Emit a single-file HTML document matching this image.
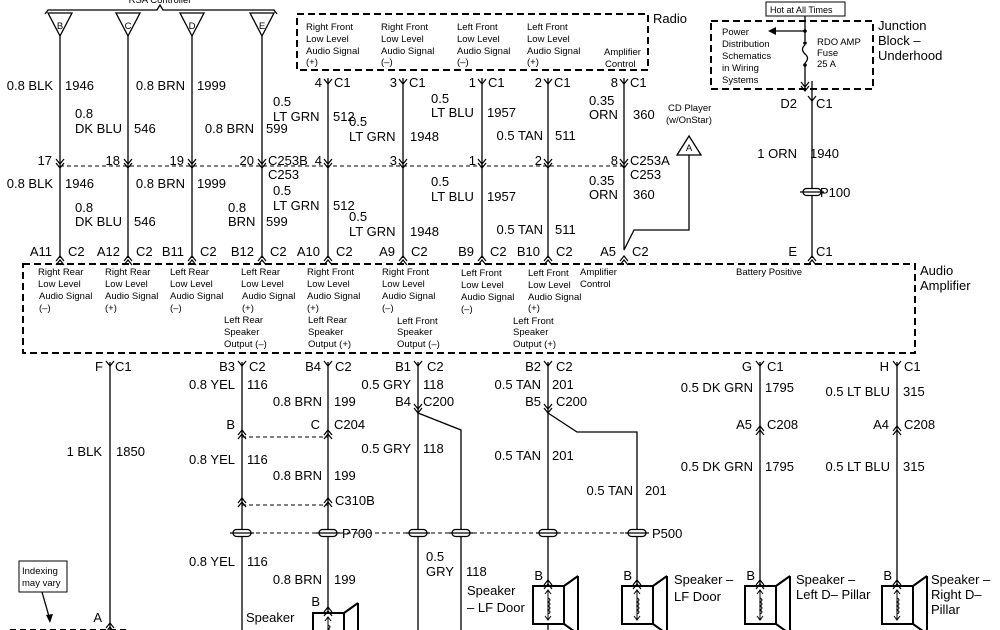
<!DOCTYPE html>
<html><head><meta charset="utf-8">
<style>
html,body{margin:0;padding:0;background:#fff;}
svg{display:block;}
text{font-family:"Liberation Sans",Arial,sans-serif;fill:#000;}
.l{font-size:13px;}
.s{font-size:9.5px;}
.r{text-anchor:end;}
</style></head><body>
<svg width="1000" height="630" viewBox="0 0 1000 630" xmlns="http://www.w3.org/2000/svg">
<defs>
<path id="fk" d="M-4,-5 L0,0 L4,-5" fill="none" stroke="#000" stroke-width="1.2"/>
<path id="ar" d="M-4,-5 L0,0 L4,-5 M-4,-1 L0,4 L4,-1" fill="none" stroke="#000" stroke-width="1.2"/>
<path id="up" d="M-4,5 L0,0 L4,5 M-4,9 L0,4 L4,9" fill="none" stroke="#000" stroke-width="1.2"/>
<g id="sp"><rect x="-9" y="-3.5" width="18" height="7" rx="3.5" fill="#fff" stroke="#000" stroke-width="1.3"/><line x1="-12" y1="0" x2="12" y2="0" stroke="#000" stroke-width="1.3"/></g>
<g id="spk"><rect x="-15" y="0" width="31" height="38" fill="#fff" stroke="#000" stroke-width="2"/><path d="M16,0 L30,-10 M16,38 L30,48 M30,-10 L30,48" fill="none" stroke="#000" stroke-width="2"/><path d="M0,4 L0,34 M-3,8 L0,4 L3,8 M-3,30 L0,34 L3,30 M0,12 q4,2 0,4 q4,2 0,4 q4,2 0,4 q4,2 0,4" fill="none" stroke="#000" stroke-width="1"/></g>
</defs>
<g stroke="#000" stroke-width="1.3" fill="none">
<path d="M45,14 L48,10 L157,10 L160,5 L163,10 L274,10 L277,14"/>
<path d="M48,13 L72,13 L60,36 Z M116,13 L140,13 L128,36 Z M180,13 L204,13 L192,36 Z M250,13 L274,13 L262,36 Z"/>
<path d="M60,36 V258 M128,36 V258 M192,36 V258 M262,36 V258 M328,78 V258 M403,78 V258 M482,78 V258 M548,78 V258 M624,78 V250 L634,230 H689 V155"/>
<path d="M677,155 L689,136 L701,155 Z"/>
<rect x="297" y="14" width="351" height="56" stroke-dasharray="7,4" stroke-width="2"/>
<line x1="60" y1="166" x2="624" y2="166" stroke-dasharray="4,3" stroke-width="1"/>
<rect x="23" y="264" width="892" height="89" stroke-dasharray="7,4" stroke-width="2"/>
<rect x="711" y="21" width="162" height="68" stroke-dasharray="7,4" stroke-width="2"/>
<rect x="766" y="2" width="79" height="14" stroke-width="1"/>
<path d="M805,16 V41 M805,63 V90 M805,31 H776"/>
<path d="M805,45 q-5,4 0,9 q5,4 0,9"/>
<path d="M812,81 V258"/>
<path d="M110,362 V630 M242,362 V630 M328,362 V630 M418,362 V630 M418,413 L461,430 V630 M548,362 V630 M548,413 L577,432 H637 V585 M760,362 V585 M897,362 V585"/>
<line x1="242" y1="437" x2="328" y2="437" stroke-dasharray="4,3" stroke-width="1"/>
<line x1="242" y1="505" x2="328" y2="505" stroke-dasharray="4,3" stroke-width="1"/>
<line x1="242" y1="533" x2="645" y2="533" stroke-dasharray="4,3" stroke-width="1"/>
<line x1="10" y1="630" x2="130" y2="630" stroke-dasharray="6,4" stroke-width="2"/>
<rect x="19" y="561" width="48" height="31" stroke-width="1"/>
<line x1="42" y1="592" x2="50" y2="620"/>
</g>
<path d="M768,31 L776,27 L776,35 Z M46,615 L50,623 L53,614 Z" fill="#000"/>
<g fill="#000"><circle cx="805" cy="31" r="1.8"/><circle cx="805" cy="43" r="1.8"/><circle cx="805" cy="65" r="1.8"/></g>
<g>
<use href="#fk" x="328" y="84"/><use href="#fk" x="403" y="84"/><use href="#fk" x="482" y="84"/><use href="#fk" x="548" y="84"/><use href="#fk" x="624" y="84"/>
<use href="#ar" x="60" y="164"/><use href="#ar" x="128" y="164"/><use href="#ar" x="192" y="164"/><use href="#ar" x="262" y="164"/><use href="#ar" x="328" y="164"/><use href="#ar" x="403" y="164"/><use href="#ar" x="482" y="164"/><use href="#ar" x="548" y="164"/><use href="#ar" x="624" y="164"/>
<use href="#fk" x="812" y="101"/><use href="#ar" x="805" y="87"/>
<use href="#up" x="60" y="256"/><use href="#up" x="128" y="256"/><use href="#up" x="192" y="256"/><use href="#up" x="262" y="256"/><use href="#up" x="328" y="256"/><use href="#up" x="403" y="256"/><use href="#up" x="482" y="256"/><use href="#up" x="548" y="256"/><use href="#up" x="624" y="256"/><use href="#up" x="812" y="256"/>
<use href="#fk" x="110" y="366"/><use href="#fk" x="242" y="366"/><use href="#fk" x="328" y="366"/><use href="#fk" x="418" y="366"/><use href="#fk" x="548" y="366"/><use href="#fk" x="760" y="366"/><use href="#fk" x="897" y="366"/>
<use href="#ar" x="418" y="409"/><use href="#ar" x="548" y="409"/>
<use href="#up" x="242" y="430"/><use href="#up" x="328" y="430"/><use href="#up" x="242" y="498"/><use href="#up" x="328" y="498"/>
<use href="#up" x="760" y="426"/><use href="#up" x="897" y="426"/><use href="#up" x="110" y="623"/>
<use href="#sp" x="812" y="192"/>
<use href="#sp" x="242" y="533"/><use href="#sp" x="328" y="533"/><use href="#sp" x="418" y="533"/><use href="#sp" x="461" y="533"/><use href="#sp" x="548" y="533"/><use href="#sp" x="637" y="533"/>
<use href="#spk" x="328" y="613"/><use href="#spk" x="548" y="586"/><use href="#spk" x="637" y="586"/><use href="#spk" x="760" y="586"/><use href="#spk" x="897" y="586"/>
<use href="#up" x="328" y="607"/><use href="#up" x="548" y="580"/><use href="#up" x="637" y="580"/><use href="#up" x="760" y="580"/><use href="#up" x="897" y="580"/>
</g>
<text x="160" y="3" class="s" text-anchor="middle">RSA Controller</text>
<g class="s" font-size="9">
<text x="60" y="29" text-anchor="middle">B</text><text x="128" y="29" text-anchor="middle">C</text><text x="192" y="29" text-anchor="middle">D</text><text x="262" y="29" text-anchor="middle">E</text>
</g>
<g class="s">
<text x="306" y="30">Right Front</text><text x="306" y="42">Low Level</text><text x="306" y="54">Audio Signal</text><text x="306" y="65">(+)</text>
<text x="381" y="30">Right Front</text><text x="381" y="42">Low Level</text><text x="381" y="54">Audio Signal</text><text x="381" y="65">(–)</text>
<text x="457" y="30">Left Front</text><text x="457" y="42">Low Level</text><text x="457" y="54">Audio Signal</text><text x="457" y="65">(–)</text>
<text x="527" y="30">Left Front</text><text x="527" y="42">Low Level</text><text x="527" y="54">Audio Signal</text><text x="527" y="65">(+)</text>
<text x="604" y="55">Amplifier</text><text x="605" y="67">Control</text>
<text x="668" y="111">CD Player</text><text x="666" y="123">(w/OnStar)</text>
<text x="689" y="151" text-anchor="middle">A</text>
<text x="770" y="13" font-size="9">Hot at All Times</text>
<text x="722" y="35">Power</text><text x="722" y="47">Distribution</text><text x="722" y="59">Schematics</text><text x="722" y="71">in Wiring</text><text x="722" y="83">Systems</text>
<text x="817" y="45">RDO AMP</text><text x="817" y="56">Fuse</text><text x="817" y="67">25 A</text>
<text x="22" y="574">Indexing</text><text x="22" y="586">may vary</text>
</g>
<g class="l" font-size="14">
<text x="653" y="23">Radio</text>
<text x="878" y="30">Junction</text><text x="878" y="45">Block –</text><text x="878" y="60">Underhood</text>
<text x="920" y="275">Audio</text><text x="920" y="290">Amplifier</text>
</g>
<g class="l">
<text x="53" y="90" class="r">0.8 BLK</text><text x="65" y="90">1946</text>
<text x="75" y="118">0.8</text><text x="75" y="133">DK BLU</text><text x="134" y="133">546</text>
<text x="185" y="90" class="r">0.8 BRN</text><text x="197" y="90">1999</text>
<text x="254" y="133" class="r">0.8 BRN</text><text x="266" y="133">599</text>
<text x="273" y="106">0.5</text><text x="273" y="121">LT GRN</text><text x="333" y="121">512</text>
<text x="349" y="126">0.5</text><text x="349" y="141">LT GRN</text><text x="410" y="141">1948</text>
<text x="431" y="103">0.5</text><text x="431" y="117">LT BLU</text><text x="487" y="117">1957</text>
<text x="543" y="140" class="r">0.5 TAN</text><text x="555" y="140">511</text>
<text x="589" y="105">0.35</text><text x="589" y="119">ORN</text><text x="633" y="119">360</text>
<text x="322" y="87" class="r">4</text><text x="334" y="87">C1</text>
<text x="397" y="87" class="r">3</text><text x="409" y="87">C1</text>
<text x="476" y="87" class="r">1</text><text x="488" y="87">C1</text>
<text x="542" y="87" class="r">2</text><text x="554" y="87">C1</text>
<text x="618" y="87" class="r">8</text><text x="630" y="87">C1</text>
<text x="52" y="165" class="r">17</text><text x="120" y="165" class="r">18</text><text x="184" y="165" class="r">19</text><text x="254" y="165" class="r">20</text>
<text x="268" y="165">C253B</text><text x="268" y="179">C253</text><text x="322" y="165" class="r">4</text>
<text x="397" y="165" class="r">3</text><text x="476" y="165" class="r">1</text><text x="542" y="165" class="r">2</text><text x="618" y="165" class="r">8</text>
<text x="630" y="165">C253A</text><text x="630" y="179">C253</text>
<text x="53" y="188" class="r">0.8 BLK</text><text x="65" y="188">1946</text>
<text x="75" y="212">0.8</text><text x="75" y="226">DK BLU</text><text x="134" y="226">546</text>
<text x="185" y="188" class="r">0.8 BRN</text><text x="197" y="188">1999</text>
<text x="228" y="212">0.8</text><text x="228" y="226">BRN</text><text x="266" y="226">599</text>
<text x="273" y="195">0.5</text><text x="273" y="210">LT GRN</text><text x="333" y="210">512</text>
<text x="349" y="221">0.5</text><text x="349" y="236">LT GRN</text><text x="410" y="236">1948</text>
<text x="431" y="186">0.5</text><text x="431" y="201">LT BLU</text><text x="487" y="201">1957</text>
<text x="543" y="234" class="r">0.5 TAN</text><text x="555" y="234">511</text>
<text x="589" y="185">0.35</text><text x="589" y="199">ORN</text><text x="633" y="199">360</text>
<text x="797" y="158" class="r">1 ORN</text><text x="810" y="158">1940</text>
<text x="820" y="197">P100</text>
<text x="797" y="108" class="r">D2</text><text x="816" y="108">C1</text>
<text x="797" y="256" class="r">E</text><text x="816" y="256">C1</text>
<text x="52" y="256" class="r">A11</text><text x="68" y="256">C2</text>
<text x="120" y="256" class="r">A12</text><text x="136" y="256">C2</text>
<text x="184" y="256" class="r">B11</text><text x="200" y="256">C2</text>
<text x="254" y="256" class="r">B12</text><text x="270" y="256">C2</text>
<text x="320" y="256" class="r">A10</text><text x="336" y="256">C2</text>
<text x="395" y="256" class="r">A9</text><text x="411" y="256">C2</text>
<text x="474" y="256" class="r">B9</text><text x="490" y="256">C2</text>
<text x="540" y="256" class="r">B10</text><text x="556" y="256">C2</text>
<text x="616" y="256" class="r">A5</text><text x="632" y="256">C2</text>
</g>
<g class="s">
<text x="38" y="275">Right Rear</text><text x="38" y="287">Low Level</text><text x="39" y="299">Audio Signal</text><text x="39" y="311">(–)</text>
<text x="105" y="275">Right Rear</text><text x="105" y="287">Low Level</text><text x="105" y="299">Audio Signal</text><text x="105" y="311">(+)</text>
<text x="170" y="275">Left Rear</text><text x="170" y="287">Low Level</text><text x="170" y="299">Audio Signal</text><text x="170" y="311">(–)</text>
<text x="241" y="275">Left Rear</text><text x="241" y="287">Low Level</text><text x="242" y="299">Audio Signal</text><text x="242" y="311">(+)</text>
<text x="307" y="275">Right Front</text><text x="307" y="287">Low Level</text><text x="307" y="299">Audio Signal</text><text x="307" y="311">(+)</text>
<text x="382" y="275">Right Front</text><text x="382" y="287">Low Level</text><text x="382" y="299">Audio Signal</text><text x="382" y="311">(–)</text>
<text x="461" y="276">Left Front</text><text x="461" y="288">Low Level</text><text x="461" y="300">Audio Signal</text><text x="461" y="312">(–)</text>
<text x="528" y="276">Left Front</text><text x="528" y="288">Low Level</text><text x="528" y="300">Audio Signal</text><text x="528" y="311">(+)</text>
<text x="580" y="275">Amplifier</text><text x="580" y="287">Control</text>
<text x="736" y="275">Battery Positive</text>
<text x="224" y="323">Left Rear</text><text x="224" y="335">Speaker</text><text x="224" y="347">Output (–)</text>
<text x="308" y="323">Left Rear</text><text x="308" y="335">Speaker</text><text x="308" y="347">Output (+)</text>
<text x="397" y="324">Left Front</text><text x="397" y="335">Speaker</text><text x="397" y="347">Output (–)</text>
<text x="513" y="324">Left Front</text><text x="513" y="335">Speaker</text><text x="513" y="347">Output (+)</text>
</g>
<g class="l">
<text x="103" y="371" class="r">F</text><text x="115" y="371">C1</text>
<text x="235" y="371" class="r">B3</text><text x="249" y="371">C2</text>
<text x="321" y="371" class="r">B4</text><text x="335" y="371">C2</text>
<text x="411" y="371" class="r">B1</text><text x="427" y="371">C2</text>
<text x="541" y="371" class="r">B2</text><text x="556" y="371">C2</text>
<text x="752" y="371" class="r">G</text><text x="767" y="371">C1</text>
<text x="889" y="371" class="r">H</text><text x="904" y="371">C1</text>
<text x="235" y="389" class="r">0.8 YEL</text><text x="247" y="389">116</text>
<text x="322" y="406" class="r">0.8 BRN</text><text x="334" y="406">199</text>
<text x="411" y="389" class="r">0.5 GRY</text><text x="423" y="389">118</text>
<text x="411" y="406" class="r">B4</text><text x="423" y="406">C200</text>
<text x="541" y="389" class="r">0.5 TAN</text><text x="552" y="389">201</text>
<text x="541" y="406" class="r">B5</text><text x="556" y="406">C200</text>
<text x="753" y="392" class="r">0.5 DK GRN</text><text x="765" y="392">1795</text>
<text x="890" y="396" class="r">0.5 LT BLU</text><text x="903" y="396">315</text>
<text x="235" y="429" class="r">B</text><text x="320" y="429" class="r">C</text><text x="334" y="429">C204</text>
<text x="752" y="429" class="r">A5</text><text x="767" y="429">C208</text>
<text x="889" y="429" class="r">A4</text><text x="904" y="429">C208</text>
<text x="102" y="456" class="r">1 BLK</text><text x="116" y="456">1850</text>
<text x="411" y="453" class="r">0.5 GRY</text><text x="423" y="453">118</text>
<text x="541" y="460" class="r">0.5 TAN</text><text x="552" y="460">201</text>
<text x="753" y="471" class="r">0.5 DK GRN</text><text x="765" y="471">1795</text>
<text x="890" y="471" class="r">0.5 LT BLU</text><text x="903" y="471">315</text>
<text x="235" y="464" class="r">0.8 YEL</text><text x="247" y="464">116</text>
<text x="322" y="480" class="r">0.8 BRN</text><text x="334" y="480">199</text>
<text x="633" y="495" class="r">0.5 TAN</text><text x="645" y="495">201</text>
<text x="335" y="505">C310B</text>
<text x="342" y="538">P700</text><text x="652" y="538">P500</text>
<text x="235" y="566" class="r">0.8 YEL</text><text x="247" y="566">116</text>
<text x="322" y="584" class="r">0.8 BRN</text><text x="334" y="584">199</text>
<text x="426" y="561">0.5</text><text x="426" y="576">GRY</text><text x="466" y="576">118</text>
<text x="467" y="595">Speaker</text><text x="467" y="612">– LF Door</text>
<text x="246" y="622">Speaker</text>
<text x="320" y="606" class="r">B</text>
<text x="543" y="580" class="r">B</text><text x="632" y="580" class="r">B</text><text x="755" y="580" class="r">B</text><text x="892" y="580" class="r">B</text>
<text x="674" y="584">Speaker –</text><text x="674" y="601">LF Door</text>
<text x="796" y="584">Speaker –</text><text x="796" y="599">Left D– Pillar</text>
<text x="931" y="584">Speaker –</text><text x="931" y="599">Right D–</text><text x="931" y="614">Pillar</text>
<text x="102" y="622" class="r">A</text>
</g>
</svg>
</body></html>
